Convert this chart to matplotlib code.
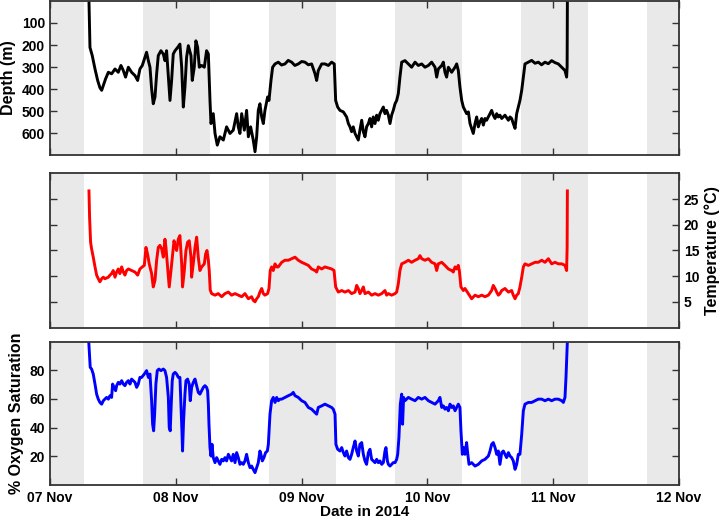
import numpy as np
import matplotlib
matplotlib.use('Agg')
import matplotlib.pyplot as plt

plt.rcParams['font.family'] = ['Liberation Sans', 'DejaVu Sans']
plt.rcParams['font.weight'] = 'bold'

# time axis: days since 07 Nov 2014 00:00
day_ticks = [0, 1, 2, 3, 4, 5]
day_labels = ['07 Nov', '08 Nov', '09 Nov', '10 Nov', '11 Nov', '12 Nov']

# night periods (grey bands), in days since 07 Nov
night_start = [0.0, 0.742, 1.742, 2.742, 3.743, 4.743]
night_end = [0.270, 1.272, 2.273, 3.274, 4.274, 5.0]

# depth record (m)
depth_t = [0.310, 0.318, 0.336, 0.358, 0.379, 0.397, 0.411, 0.424, 0.442, 0.464,
           0.490, 0.517, 0.543, 0.564, 0.583, 0.601, 0.623, 0.649, 0.676, 0.697,
           0.715, 0.734, 0.755, 0.768, 0.782, 0.795, 0.808, 0.821, 0.835, 0.848,
           0.861, 0.882, 0.901, 0.914, 0.927, 0.941, 0.954, 0.967, 0.980, 0.994,
           1.015, 1.033, 1.047, 1.060, 1.073, 1.086, 1.100, 1.121, 1.131, 1.147,
           1.160, 1.174, 1.187, 1.206, 1.227, 1.245, 1.259, 1.272, 1.280, 1.298,
           1.312, 1.330, 1.351, 1.378, 1.404, 1.431, 1.457, 1.484, 1.497, 1.510,
           1.524, 1.545, 1.563, 1.577, 1.595, 1.616, 1.630, 1.643, 1.656, 1.669,
           1.683, 1.696, 1.709, 1.730, 1.741, 1.757, 1.770, 1.789, 1.815, 1.841,
           1.868, 1.894, 1.921, 1.947, 1.974, 2.001, 2.027, 2.054, 2.080, 2.107,
           2.120, 2.133, 2.160, 2.186, 2.213, 2.239, 2.260, 2.271, 2.287, 2.305,
           2.332, 2.358, 2.372, 2.385, 2.398, 2.411, 2.425, 2.438, 2.451, 2.464,
           2.478, 2.491, 2.504, 2.517, 2.531, 2.544, 2.557, 2.570, 2.584, 2.597,
           2.610, 2.623, 2.637, 2.650, 2.663, 2.676, 2.690, 2.703, 2.716, 2.729,
           2.743, 2.756, 2.769, 2.782, 2.796, 2.822, 2.849, 2.875, 2.902, 2.928,
           2.955, 2.981, 3.008, 3.034, 3.061, 3.074, 3.087, 3.114, 3.127, 3.140,
           3.153, 3.167, 3.193, 3.220, 3.233, 3.246, 3.259, 3.273, 3.286, 3.299,
           3.312, 3.326, 3.339, 3.352, 3.365, 3.379, 3.392, 3.405, 3.418, 3.432,
           3.445, 3.458, 3.471, 3.485, 3.498, 3.511, 3.524, 3.538, 3.551, 3.564,
           3.577, 3.591, 3.617, 3.644, 3.657, 3.670, 3.683, 3.697, 3.710, 3.723,
           3.736, 3.750, 3.763, 3.776, 3.803, 3.829, 3.856, 3.882, 3.908, 3.935,
           3.961, 3.988, 4.014, 4.041, 4.068, 4.094, 4.107, 4.111, 4.113]
depth = [0, 211, 248, 309, 361, 394, 406, 384, 354, 324,
         331, 309, 324, 293, 316, 346, 301, 324, 339, 361,
         309, 293, 256, 233, 271, 301, 399, 467, 436, 331,
         248, 226, 241, 271, 226, 346, 452, 361, 241, 226,
         211, 196, 301, 482, 391, 256, 203, 248, 361, 301,
         181, 211, 301, 293, 301, 226, 241, 452, 557, 512,
         602, 655, 617, 632, 572, 602, 587, 512, 572, 602,
         512, 587, 497, 617, 572, 632, 685, 617, 497, 467,
         527, 557, 497, 436, 452, 361, 301, 286, 278, 291,
         286, 270, 278, 293, 286, 275, 278, 290, 286, 331,
         361, 316, 286, 286, 293, 278, 286, 452, 482, 497,
         504, 527, 557, 572, 594, 572, 602, 617, 632, 587,
         542, 594, 617, 572, 557, 534, 572, 527, 557, 519,
         542, 512, 497, 482, 512, 497, 519, 557, 519, 497,
         467, 452, 421, 346, 278, 271, 286, 301, 278, 293,
         286, 301, 293, 278, 301, 346, 309, 293, 278, 324,
         346, 301, 324, 301, 286, 316, 391, 452, 482, 497,
         512, 504, 557, 579, 602, 557, 527, 572, 549, 534,
         564, 534, 542, 527, 512, 497, 519, 534, 512, 527,
         519, 534, 519, 542, 527, 534, 557, 579, 512, 482,
         452, 406, 346, 286, 278, 270, 283, 278, 290, 278,
         285, 271, 280, 286, 301, 316, 346, 300, 0]

# temperature record (deg C)
temp_t = [0.310, 0.315, 0.323, 0.331, 0.344, 0.358, 0.371, 0.384, 0.397, 0.411,
          0.424, 0.437, 0.464, 0.477, 0.490, 0.503, 0.517, 0.530, 0.543, 0.556,
          0.570, 0.583, 0.596, 0.609, 0.623, 0.649, 0.676, 0.697, 0.715, 0.734,
          0.750, 0.763, 0.776, 0.789, 0.808, 0.821, 0.835, 0.848, 0.861, 0.874,
          0.888, 0.901, 0.914, 0.922, 0.935, 0.948, 0.962, 0.975, 0.986, 0.994,
          1.007, 1.020, 1.033, 1.047, 1.054, 1.068, 1.081, 1.094, 1.107, 1.121,
          1.126, 1.139, 1.153, 1.166, 1.179, 1.192, 1.206, 1.227, 1.237, 1.248,
          1.259, 1.266, 1.274, 1.285, 1.312, 1.338, 1.365, 1.391, 1.418, 1.444,
          1.471, 1.497, 1.524, 1.550, 1.577, 1.603, 1.616, 1.630, 1.643, 1.656,
          1.669, 1.683, 1.696, 1.709, 1.730, 1.741, 1.751, 1.762, 1.775, 1.789,
          1.802, 1.815, 1.842, 1.868, 1.895, 1.921, 1.948, 1.974, 2.001, 2.027,
          2.054, 2.080, 2.107, 2.120, 2.133, 2.160, 2.186, 2.213, 2.239, 2.258,
          2.271, 2.292, 2.319, 2.345, 2.372, 2.398, 2.425, 2.438, 2.451, 2.464,
          2.478, 2.491, 2.504, 2.531, 2.557, 2.584, 2.610, 2.637, 2.663, 2.676,
          2.690, 2.716, 2.743, 2.756, 2.769, 2.782, 2.796, 2.822, 2.849, 2.875,
          2.902, 2.928, 2.941, 2.955, 2.981, 3.008, 3.034, 3.061, 3.074, 3.087,
          3.114, 3.140, 3.167, 3.193, 3.206, 3.220, 3.233, 3.246, 3.254, 3.267,
          3.286, 3.299, 3.326, 3.352, 3.379, 3.405, 3.432, 3.458, 3.485, 3.511,
          3.524, 3.538, 3.551, 3.564, 3.577, 3.591, 3.617, 3.644, 3.670, 3.683,
          3.697, 3.710, 3.723, 3.736, 3.750, 3.763, 3.776, 3.803, 3.829, 3.856,
          3.882, 3.909, 3.935, 3.962, 3.988, 4.015, 4.041, 4.068, 4.094, 4.107,
          4.111, 4.113]
temp = [26.6, 21.4, 16.6, 15.3, 13.7, 11.8, 10.2, 9.5, 8.9, 9.5,
        9.8, 9.5, 9.8, 10.2, 10.5, 11.1, 9.8, 10.8, 11.4, 10.5,
        11.8, 10.8, 10.2, 11.1, 11.4, 11.1, 10.8, 10.2, 11.4, 11.8,
        12.1, 15.6, 14.3, 12.4, 10.5, 7.9, 9.2, 13.1, 15.6, 16.0,
        15.3, 13.7, 17.2, 15.6, 11.8, 7.9, 11.1, 14.3, 16.9, 16.0,
        15.0, 17.2, 17.9, 12.4, 7.9, 11.1, 15.0, 16.6, 16.9, 13.7,
        9.8, 12.4, 15.6, 17.6, 13.7, 11.1, 11.8, 12.4, 14.3, 15.0,
        13.1, 11.1, 7.3, 6.6, 6.3, 6.6, 6.0, 6.6, 6.9, 6.3,
        6.6, 6.3, 6.0, 6.6, 5.6, 6.0, 5.3, 5.0, 5.6, 6.0,
        6.9, 7.6, 6.6, 6.3, 6.6, 7.6, 11.1, 11.8, 11.1, 12.4,
        11.8, 11.8, 12.7, 13.1, 13.1, 13.4, 13.7, 13.1, 12.7, 12.4,
        12.1, 11.4, 11.1, 10.8, 11.8, 11.4, 11.8, 11.6, 11.4, 11.1,
        7.9, 6.9, 7.2, 6.9, 7.2, 6.6, 6.9, 8.2, 7.6, 6.6,
        7.2, 7.9, 6.6, 6.9, 6.3, 6.6, 6.3, 6.6, 7.2, 6.3,
        6.6, 6.3, 6.6, 6.9, 8.5, 11.1, 12.4, 12.7, 13.1, 12.7,
        13.1, 13.4, 14.0, 13.4, 13.1, 13.4, 12.7, 12.4, 11.1, 12.4,
        12.7, 12.1, 11.4, 11.1, 10.8, 11.8, 11.4, 12.1, 11.1, 7.9,
        7.2, 7.6, 6.6, 5.6, 6.3, 6.0, 6.3, 6.0, 6.3, 7.2,
        8.2, 7.6, 6.9, 6.3, 6.6, 7.2, 7.6, 6.9, 7.2, 6.3,
        5.6, 6.3, 6.6, 7.9, 9.8, 11.8, 12.4, 12.1, 12.4, 12.7,
        12.7, 13.1, 12.7, 13.4, 12.4, 12.7, 12.4, 12.4, 12.1, 11.1,
        15.6, 26.6]

# oxygen saturation record (%)
oxy_t = [0.305, 0.315, 0.320, 0.331, 0.344, 0.358, 0.371, 0.384, 0.397, 0.411,
         0.424, 0.437, 0.450, 0.464, 0.477, 0.490, 0.498, 0.509, 0.522, 0.530,
         0.543, 0.556, 0.570, 0.583, 0.596, 0.609, 0.623, 0.636, 0.649, 0.662,
         0.676, 0.689, 0.702, 0.715, 0.729, 0.750, 0.768, 0.782, 0.795, 0.808,
         0.816, 0.824, 0.832, 0.842, 0.853, 0.866, 0.882, 0.901, 0.914, 0.927,
         0.941, 0.948, 0.956, 0.964, 0.972, 0.980, 0.994, 1.007, 1.020, 1.033,
         1.041, 1.049, 1.054, 1.062, 1.073, 1.081, 1.094, 1.107, 1.115, 1.126,
         1.139, 1.153, 1.166, 1.179, 1.192, 1.206, 1.219, 1.232, 1.245, 1.253,
         1.259, 1.264, 1.272, 1.280, 1.288, 1.298, 1.312, 1.325, 1.338, 1.351,
         1.365, 1.378, 1.391, 1.404, 1.418, 1.431, 1.444, 1.457, 1.471, 1.484,
         1.497, 1.510, 1.524, 1.537, 1.550, 1.563, 1.577, 1.590, 1.603, 1.616,
         1.630, 1.643, 1.656, 1.669, 1.677, 1.688, 1.701, 1.714, 1.728, 1.736,
         1.749, 1.762, 1.775, 1.789, 1.802, 1.815, 1.828, 1.842, 1.868, 1.895,
         1.921, 1.934, 1.948, 1.974, 2.001, 2.027, 2.054, 2.080, 2.107, 2.120,
         2.133, 2.160, 2.186, 2.213, 2.239, 2.252, 2.266, 2.273, 2.287, 2.305,
         2.319, 2.332, 2.345, 2.358, 2.372, 2.385, 2.398, 2.411, 2.425, 2.438,
         2.451, 2.464, 2.478, 2.491, 2.504, 2.517, 2.531, 2.544, 2.557, 2.570,
         2.584, 2.597, 2.610, 2.623, 2.637, 2.650, 2.663, 2.671, 2.682, 2.690,
         2.703, 2.716, 2.729, 2.743, 2.756, 2.764, 2.774, 2.785, 2.796, 2.803,
         2.811, 2.822, 2.849, 2.875, 2.902, 2.928, 2.955, 2.981, 3.008, 3.034,
         3.061, 3.087, 3.100, 3.114, 3.127, 3.140, 3.153, 3.167, 3.180, 3.193,
         3.206, 3.220, 3.233, 3.246, 3.259, 3.267, 3.278, 3.288, 3.299, 3.312,
         3.320, 3.331, 3.352, 3.379, 3.405, 3.432, 3.458, 3.485, 3.498, 3.511,
         3.524, 3.538, 3.551, 3.564, 3.577, 3.591, 3.604, 3.617, 3.630, 3.644,
         3.657, 3.670, 3.683, 3.697, 3.710, 3.723, 3.736, 3.750, 3.763, 3.776,
         3.803, 3.829, 3.856, 3.882, 3.909, 3.935, 3.962, 3.988, 4.015, 4.041,
         4.068, 4.081, 4.094, 4.102, 4.110, 4.115]
oxy = [105, 89.1, 82.1, 80.9, 77.4, 70.4, 63.4, 59.9, 57.6, 56.4,
       58.8, 59.9, 61.1, 59.9, 62.3, 61.1, 70.4, 68.1, 65.8, 69.3,
       71.6, 70.4, 72.8, 70.4, 69.3, 71.6, 72.8, 70.4, 73.9, 72.8,
       71.6, 68.1, 70.4, 75.1, 75.1, 77.4, 79.8, 75.1, 77.4, 58.8,
       42.4, 37.8, 49.4, 70.4, 79.8, 80.9, 79.8, 80.9, 79.8, 75.1,
       61.1, 40.1, 37.8, 56.4, 72.8, 77.4, 78.6, 77.4, 75.1, 75.1,
       56.4, 37.8, 23.7, 44.7, 63.4, 72.8, 73.9, 70.4, 58.8, 68.1,
       71.6, 73.9, 69.3, 64.6, 63.4, 65.8, 68.1, 69.3, 68.1, 65.8,
       56.4, 42.4, 26.1, 20.2, 28.4, 19.1, 15.6, 19.1, 16.8, 14.4,
       17.9, 16.8, 19.1, 16.8, 21.4, 19.1, 16.8, 21.4, 15.6, 22.6,
       19.1, 14.4, 15.6, 14.4, 16.8, 21.4, 15.6, 12.1, 13.2, 10.9,
       8.6, 12.1, 15.6, 23.7, 21.4, 16.8, 19.1, 22.6, 23.7, 28.4,
       49.4, 58.8, 61.1, 57.6, 61.1, 58.8, 59.9, 59.9, 61.1, 62.3,
       63.4, 64.6, 62.3, 61.1, 58.8, 57.6, 54.1, 52.9, 50.6, 49.4,
       54.1, 55.2, 56.4, 55.2, 54.1, 52.9, 49.4, 28.4, 24.9, 23.7,
       26.1, 22.6, 20.2, 23.7, 19.1, 17.9, 21.4, 26.1, 30.7, 23.7,
       20.2, 28.4, 29.6, 21.4, 16.8, 14.4, 22.6, 24.9, 17.9, 16.8,
       15.6, 17.9, 15.6, 16.8, 14.4, 15.6, 23.7, 26.1, 16.8, 14.4,
       13.2, 14.4, 15.6, 15.6, 17.9, 21.4, 33.1, 56.4, 63.4, 42.4,
       61.1, 58.8, 61.1, 59.9, 58.8, 61.1, 59.9, 61.1, 58.8, 57.6,
       56.4, 58.8, 61.1, 54.1, 55.2, 52.9, 54.1, 51.8, 56.4, 54.1,
       55.2, 51.8, 54.1, 56.4, 54.1, 37.8, 21.4, 26.1, 21.4, 29.6,
       22.6, 14.4, 15.6, 13.2, 14.4, 16.8, 17.9, 20.2, 23.7, 28.4,
       29.6, 26.1, 21.4, 23.7, 14.4, 22.6, 23.7, 21.4, 19.1, 22.6,
       20.2, 19.1, 16.8, 10.9, 14.4, 21.4, 21.4, 35.4, 51.8, 56.4,
       57.6, 57.6, 58.8, 59.9, 59.9, 58.8, 59.9, 58.8, 59.9, 59.9,
       58.8, 57.6, 61.1, 75.1, 93.8, 105]

fig = plt.figure(figsize=(7.2, 5.23), dpi=100)
ax1 = fig.add_axes([0.0694, 0.7036, 0.8736, 0.2945])
ax2 = fig.add_axes([0.0694, 0.3738, 0.8736, 0.2945])
ax3 = fig.add_axes([0.0694, 0.0727, 0.8736, 0.2740])

for ax in [ax1, ax2, ax3]:
    for s, e in zip(night_start, night_end):
        ax.axvspan(s, e, color='#e9e9e9', lw=0, zorder=0)
    ax.set_xlim(0, 5)
    ax.set_xticks(day_ticks)
    ax.tick_params(direction='in', top=True, right=True, length=5, width=1,
                   labelsize=10, color='0.2')
    for sp in ax.spines.values():
        sp.set_color('0.2')
        sp.set_linewidth(1.3)

ax1.plot(depth_t, depth, color='black', lw=2.1, solid_joinstyle='round')
ax1.set_ylim(700, 0)
ax1.set_yticks([100, 200, 300, 400, 500, 600])
ax1.set_xticklabels([])
ax1.set_ylabel('Depth (m)', fontsize=11.5, fontweight='bold', labelpad=4)

ax2.plot(temp_t, temp, color='#ff0000', lw=2.1, solid_joinstyle='round')
ax2.set_ylim(0, 30)
ax2.set_yticks([5, 10, 15, 20, 25])
ax2.set_xticklabels([])
ax2.tick_params(labelleft=False, labelright=True)
ax2.yaxis.set_label_position('right')
ax2.set_ylabel('Temperature (°C)', fontsize=11.5, fontweight='bold', labelpad=4)

ax3.plot(oxy_t, oxy, color='#0000ff', lw=2.1, solid_joinstyle='round')
ax3.set_ylim(0, 100)
ax3.set_yticks([20, 40, 60, 80])
ax3.set_xticklabels(day_labels)
ax3.tick_params(axis='x', pad=4)
ax3.set_ylabel('% Oxygen Saturation', fontsize=11.5, fontweight='bold', labelpad=4)
ax3.set_xlabel('Date in 2014', fontsize=11, fontweight='bold', labelpad=0)

fig.savefig('out.png', dpi=100)
